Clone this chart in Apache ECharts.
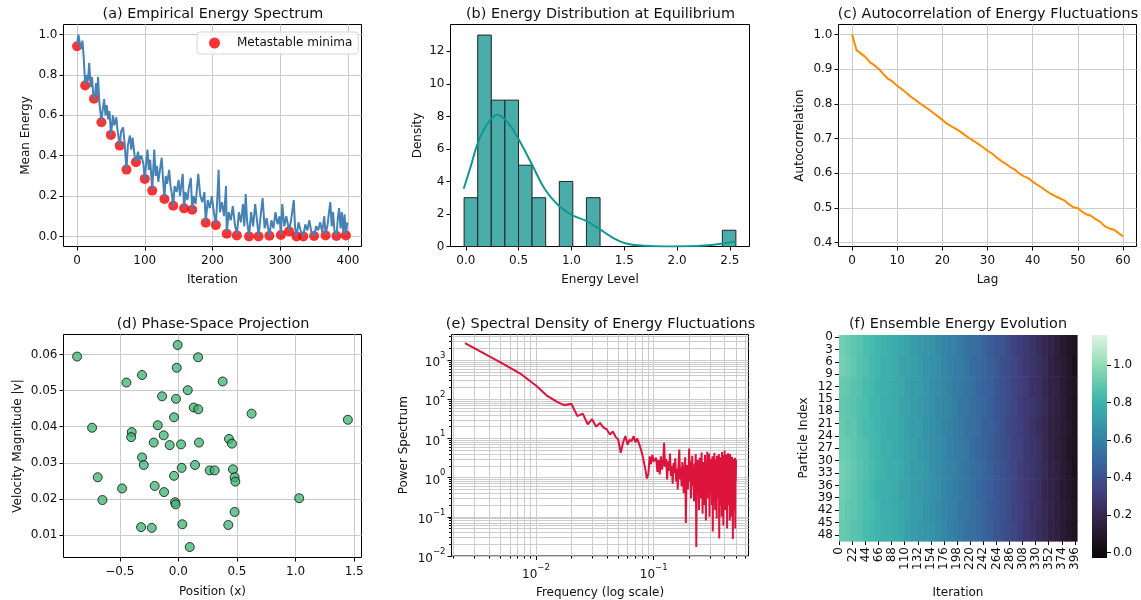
<!DOCTYPE html>
<html><head><meta charset="utf-8">
<script src="https://cdn.jsdelivr.net/npm/echarts@6/dist/echarts.min.js"></script>
<style>html,body{margin:0;padding:0;background:#fff}#c{width:1141px;height:600px}</style>
</head><body><div id="c"></div>
<script>
// ---------- (a) Empirical Energy Spectrum ----------
const ITER_X = [0,2,4,6,8,10,12,14,16,18,20,22,24,26,28,30,31,33,36,38,40,42,44,46,48,50,53,55,58,60,63,65,68,70,73,75,78,80,82,85,87,90,92,95,98,100,102,104,106,108,111,114,116,118,120,122,125,127,129,131,133,136,138,140,142,144,147,150,152,156,158,160,163,165,168,170,172,175,179,182,185,188,190,193,196,199,202,205,207,209,211,214,217,220,221,224,227,230,233,236,239,242,245,247,249,251,254,257,260,263,266,268,271,274,277,280,284,287,290,293,296,299,301,303,306,309,313,316,320,322,324,327,330,334,337,340,343,346,350,353,356,359,362,365,367,370,372,374,376,378,380,383,385,387,389,391,393,395,397,399];
const MEAN_E = [0.95,1.00,0.96,0.93,0.97,0.88,0.75,0.80,0.77,0.86,0.74,0.79,0.70,0.68,0.76,0.70,0.79,0.66,0.57,0.63,0.68,0.60,0.65,0.58,0.62,0.50,0.60,0.55,0.59,0.52,0.45,0.52,0.54,0.47,0.33,0.45,0.50,0.43,0.49,0.40,0.37,0.42,0.38,0.40,0.36,0.28,0.36,0.43,0.33,0.38,0.23,0.43,0.30,0.35,0.27,0.32,0.39,0.28,0.19,0.30,0.26,0.33,0.25,0.21,0.15,0.25,0.22,0.28,0.20,0.31,0.14,0.22,0.18,0.24,0.29,0.13,0.20,0.16,0.31,0.20,0.17,0.22,0.07,0.18,0.14,0.20,0.12,0.06,0.18,0.33,0.12,0.17,0.10,0.25,0.02,0.12,0.08,0.15,0.06,0.01,0.12,0.07,0.16,0.05,0.21,0.08,0.00,0.12,0.05,0.16,0.07,0.00,0.10,0.19,0.04,0.09,0.00,0.08,0.04,0.12,0.06,0.10,0.01,0.16,0.05,0.10,0.03,0.08,0.18,0.04,0.00,0.07,0.03,0.00,0.06,0.03,0.08,0.02,0.00,0.05,0.03,0.07,0.02,0.10,0.01,0.06,0.12,0.17,0.05,0.12,0.03,0.00,0.09,0.14,0.04,0.12,0.02,0.11,0.01,0.07];
const MINIMA_X = [0,12,25,36,50,63,73,87,100,111,129,142,158,170,190,205,221,236,254,268,284,301,313,324,334,350,367,383,397];
const MINIMA_E = [0.942,0.748,0.682,0.566,0.503,0.45,0.331,0.368,0.285,0.227,0.185,0.152,0.139,0.132,0.068,0.056,0.013,0.005,0.0,0.0,0.003,0.007,0.025,0.0,0.0,0.002,0.005,0.002,0.005];

// ---------- (b) Energy Distribution ----------
const HIST_EDGES = [-0.016,0.113,0.241,0.37,0.499,0.627,0.756,0.885,1.013,1.142,1.271,1.4,1.528,1.657,1.786,1.914,2.043,2.172,2.3,2.429,2.557];
const HIST_COUNTS = [3,13,9,9,5,3,0,4,0,3,0,0,0,0,0,0,0,0,0,1];
const KDE_X = [-0.02,0.05,0.11,0.2,0.3,0.4,0.5,0.63,0.75,0.88,1.0,1.13,1.26,1.39,1.51,1.7,1.9,2.1,2.3,2.43,2.557];
const KDE_Y = [3.55,5.0,6.3,7.5,8.1,7.6,6.6,5.0,3.5,2.5,1.95,1.6,1.1,0.55,0.2,0.04,0.0,0.01,0.08,0.18,0.3];

// ---------- (c) Autocorrelation ----------
const ACF = [1.0,0.955,0.945,0.935,0.92,0.911,0.9,0.885,0.872,0.864,0.852,0.843,0.832,0.821,0.812,0.802,0.793,0.784,0.774,0.764,0.754,0.743,0.735,0.728,0.72,0.71,0.701,0.693,0.684,0.675,0.665,0.657,0.646,0.636,0.628,0.618,0.611,0.6,0.592,0.586,0.576,0.567,0.559,0.549,0.541,0.534,0.528,0.522,0.511,0.502,0.499,0.489,0.481,0.477,0.467,0.46,0.447,0.441,0.437,0.428,0.418];

// ---------- (d) Phase-space ----------
const POS_X = [-0.864,-0.006,0.168,-0.014,-0.310,-0.443,0.378,0.080,-0.139,-0.020,0.131,0.170,0.625,1.446,-0.037,-0.736,-0.176,-0.398,-0.403,-0.125,-0.210,-0.074,0.023,0.176,0.432,0.457,-0.310,-0.295,0.142,0.028,0.267,0.310,0.466,0.480,0.486,-0.688,-0.037,-0.480,-0.202,-0.122,-0.648,-0.028,-0.023,1.031,0.480,-0.318,-0.227,0.034,0.426,0.097];
const VEL = [0.0594,0.0626,0.0592,0.0563,0.0543,0.0522,0.0525,0.0501,0.0484,0.0477,0.0453,0.0448,0.0436,0.0419,0.0426,0.0397,0.0404,0.0385,0.0371,0.0376,0.0356,0.0349,0.0351,0.0356,0.0366,0.0353,0.0315,0.0294,0.0294,0.0286,0.0279,0.0279,0.0282,0.0260,0.0248,0.0260,0.0264,0.0229,0.0236,0.0219,0.0197,0.0191,0.0185,0.0202,0.0164,0.0122,0.0120,0.0130,0.0128,0.0067];

// ---------- (e) Spectral density (power at frequency k/400, k=1..200) ----------
const POWER = [2700,880,437,225,122,87,70,77,37,43,23,31,20,25,19,17,12.6,15,11,9.3,4.3,8,11.5,7,9.3,8.5,11.5,8.0,10,9.0,5.5,3.9,2.5,1.6,0.95,1.2,3.5,2.2,3.8,2.6,
2.5,3.2,1.4,2.8,1.2,3.5,1.6,2.2,7.8,1.9,3.0,0.9,2.6,1.5,4.1,1.1,2.0,0.7,2.4,1.3,
3.1,0.8,1.7,0.5,2.2,5.2,0.9,1.8,0.6,2.5,1.0,0.4,1.6,3.3,0.07,1.2,2.1,0.5,1.4,5.5,
0.8,2.6,0.3,1.5,3.6,0.6,1.9,0.25,2.3,0.9,4.0,0.017,1.1,2.8,0.4,1.6,0.15,3.2,0.7,2.0,
0.3,4.4,1.0,0.12,2.5,0.6,1.8,0.2,3.8,0.9,0.08,2.2,0.5,4.6,1.2,0.3,2.7,4.1,0.1,1.5,
0.4,3.0,0.7,2.0,0.2,3.5,0.042,1.3,2.4,0.35,4.3,0.8,0.15,2.9,0.6,1.7,0.09,3.6,1.1,0.3,
2.3,0.5,4.0,0.028,1.4,2.6,0.2,3.3,0.7,1.9,0.1,4.5,0.9,0.35,2.8,0.06,1.6,3.7,0.4,4.9,
0.8,0.15,2.5,1.2,3.9,0.3,1.8,0.05,2.9,0.6,4.2,1.0,0.2,3.1,0.5,1.5,0.08,4.0,0.7,2.2,
0.4,2.9,0.1,1.7,3.4,0.3,2.0,0.027,1.3,3.0,0.6,0.15,2.6,1.1,0.35,3.2,0.05,1.9,0.8,2.9];
const N_SAMPLES = 400;

// ---------- (f) Ensemble energy: 10 particle groups (5 each) x 40 iteration bins (10 each) ----------
const HEAT_GRID = [
[0.93,0.91,0.89,0.88,0.85,0.84,0.81,0.80,0.78,0.76,0.75,0.74,0.71,0.69,0.68,0.67,0.64,0.61,0.60,0.59,0.56,0.53,0.52,0.51,0.47,0.44,0.42,0.41,0.37,0.33,0.31,0.29,0.26,0.23,0.20,0.18,0.15,0.11,0.08,0.06],
[0.94,0.92,0.90,0.87,0.86,0.83,0.82,0.79,0.79,0.77,0.74,0.73,0.72,0.70,0.67,0.66,0.65,0.62,0.59,0.58,0.57,0.54,0.51,0.50,0.48,0.45,0.43,0.39,0.37,0.35,0.32,0.28,0.26,0.24,0.21,0.17,0.14,0.12,0.09,0.05],
[0.91,0.90,0.88,0.87,0.84,0.83,0.80,0.79,0.78,0.76,0.75,0.72,0.71,0.70,0.68,0.65,0.64,0.62,0.60,0.57,0.56,0.54,0.53,0.49,0.47,0.46,0.42,0.40,0.38,0.34,0.32,0.30,0.25,0.24,0.20,0.17,0.16,0.12,0.09,0.07],
[0.90,0.89,0.88,0.86,0.85,0.82,0.81,0.78,0.78,0.77,0.74,0.73,0.71,0.69,0.68,0.66,0.63,0.62,0.61,0.58,0.55,0.54,0.52,0.50,0.48,0.45,0.41,0.40,0.37,0.35,0.31,0.29,0.27,0.24,0.21,0.17,0.15,0.13,0.09,0.06],
[0.91,0.89,0.89,0.86,0.84,0.83,0.81,0.79,0.77,0.77,0.75,0.72,0.70,0.70,0.67,0.66,0.64,0.61,0.60,0.58,0.56,0.53,0.52,0.50,0.46,0.45,0.43,0.40,0.36,0.34,0.32,0.29,0.26,0.23,0.20,0.16,0.15,0.12,0.10,0.06],
[0.92,0.91,0.89,0.87,0.86,0.83,0.82,0.79,0.79,0.76,0.75,0.73,0.72,0.69,0.68,0.65,0.64,0.63,0.59,0.58,0.57,0.55,0.51,0.49,0.47,0.44,0.42,0.39,0.38,0.34,0.33,0.28,0.26,0.25,0.20,0.17,0.14,0.12,0.08,0.06],
[0.94,0.92,0.90,0.88,0.86,0.84,0.82,0.80,0.78,0.78,0.76,0.73,0.71,0.70,0.69,0.66,0.64,0.62,0.60,0.59,0.56,0.54,0.52,0.51,0.48,0.45,0.42,0.40,0.37,0.35,0.32,0.29,0.27,0.24,0.21,0.17,0.15,0.12,0.09,0.05],
[0.93,0.91,0.89,0.87,0.85,0.83,0.80,0.79,0.78,0.77,0.74,0.73,0.71,0.69,0.68,0.66,0.65,0.62,0.60,0.58,0.56,0.54,0.52,0.49,0.47,0.45,0.42,0.40,0.38,0.34,0.31,0.29,0.26,0.24,0.19,0.17,0.15,0.11,0.09,0.06],
[0.92,0.90,0.89,0.87,0.85,0.84,0.81,0.78,0.78,0.76,0.75,0.73,0.70,0.70,0.67,0.66,0.64,0.61,0.60,0.58,0.55,0.54,0.52,0.50,0.47,0.44,0.43,0.40,0.37,0.34,0.32,0.29,0.25,0.24,0.20,0.18,0.15,0.12,0.10,0.07],
[0.91,0.90,0.88,0.87,0.84,0.83,0.81,0.79,0.79,0.77,0.75,0.72,0.71,0.69,0.68,0.67,0.64,0.62,0.59,0.58,0.56,0.53,0.52,0.50,0.47,0.45,0.42,0.39,0.37,0.35,0.32,0.28,0.26,0.23,0.21,0.17,0.15,0.12,0.09,0.06]];
const N_PARTICLES = 50, N_ITER = 400, ROWS_PER_GROUP = 5, COLS_PER_BIN = 10;
const COLOR_MIN = -0.03, COLOR_MAX = 1.16;
const MAKO = ['#0B0405','#2E1E3B','#413D7B','#37659E','#348FA7','#40B7AD','#8BDAB2','#DEF5E5'];

// ---------- tick labels ----------
const TICKS_A_X = [0,100,200,300,400], TICKS_A_Y = [0,0.2,0.4,0.6,0.8,1.0];
const TICKS_B_X = [0,0.5,1.0,1.5,2.0,2.5], TICKS_B_Y = [0,2,4,6,8,10,12];
const TICKS_C_X = [0,10,20,30,40,50,60], TICKS_C_Y = [0.4,0.5,0.6,0.7,0.8,0.9,1.0];
const TICKS_D_X = [-0.5,0,0.5,1.0,1.5], TICKS_D_Y = [0.01,0.02,0.03,0.04,0.05,0.06];
const TICKS_E_X = [0.01,0.1], TICKS_E_Y = [0.01,0.1,1,10,100,1000];
const TICKS_CB = [0,0.2,0.4,0.6,0.8,1.0];

// ================= build =================
const FONT = 'DejaVu Sans';
const GRIDC = '#cccccc';
const TXT = '#111';
const minus = s => String(s).replace('-', '\u2212');
const f1 = v => minus(v.toFixed(1)), f2 = v => minus(v.toFixed(2)), f0 = v => minus(String(Math.round(v)));
const supFmt = v => { const e = Math.round(Math.log10(v)); return '{b|10}{e|' + minus(e) + '}'; };
const SUP_RICH = { b: { fontSize: 12, fontFamily: FONT, color: TXT, lineHeight: 18, verticalAlign: 'bottom' }, e: { fontSize: 8.5, fontFamily: FONT, color: TXT, lineHeight: 18, verticalAlign: 'top' } };

function minorLog(lo, hi) { // decorative minor grid positions
  const out = [];
  for (let p = lo; p <= hi; p++) for (let m = 1; m <= 9; m++) out.push(+(m * Math.pow(10, p)).toPrecision(3));
  return out;
}

function ax(o) {
  return {
    type: o.type || 'value', gridIndex: o.g, position: o.pos, min: o.min, max: o.max,
    ...(o.type === 'log' ? { logBase: 10 } : {}),
    name: o.name || '', nameLocation: 'middle', nameGap: o.gap || 0,
    nameTextStyle: { fontSize: 12, color: TXT, fontFamily: FONT },
    axisLine: { show: false, onZero: false },
    axisTick: { show: o.tickShow !== false, customValues: o.ticks, length: o.tl || 4, lineStyle: { color: '#000', width: 1 } },
    axisLabel: { show: o.labels !== false, customValues: o.ticks, formatter: o.fmt, fontSize: 12, color: TXT, fontFamily: FONT, margin: o.m || 6, rich: o.rich },
    splitLine: { show: !!o.grid, lineStyle: { color: GRIDC, width: 1 } },
    minorTick: { show: false }, minorSplitLine: { show: false }
  };
}
function grid(l, t, w, h, border) {
  return { left: l, top: t, width: w, height: h, show: border, borderColor: '#000', borderWidth: 1, backgroundColor: 'rgba(0,0,0,0)', containLabel: false };
}

const heatData = [];
HEAT_GRID.forEach((row, g) => row.forEach((v, b) => {
  heatData.push([b * COLS_PER_BIN, b * COLS_PER_BIN + COLS_PER_BIN - 1, g * ROWS_PER_GROUP, g * ROWS_PER_GROUP + ROWS_PER_GROUP - 1, v]);
}));
const histData = HIST_COUNTS.map((c, i) => [HIST_EDGES[i], HIST_EDGES[i + 1], c]).filter(d => d[2] > 0);
const specData = POWER.map((p, i) => [(i + 1) / N_SAMPLES, p]);

const titles = [
  ['(a) Empirical Energy Spectrum', 213, 14], ['(b) Energy Distribution at Equilibrium', 600.5, 14], ['(c) Autocorrelation of Energy Fluctuations', 988, 14],
  ['(d) Phase-Space Projection', 213, 324], ['(e) Spectral Density of Energy Fluctuations', 600.5, 324], ['(f) Ensemble Energy Evolution', 958, 324]
];

const option = {
  animation: false,
  backgroundColor: '#fff',
  textStyle: { fontFamily: FONT },
  graphic: titles.map(t => ({ type: 'text', x: t[1], y: t[2], style: { text: t[0], fontSize: 14.4, fontFamily: FONT, fill: TXT, align: 'center', verticalAlign: 'middle' } })),
  legend: {
    data: ['Metastable minima'], left: 197, top: 32, padding: [5, 6, 5, 12], itemWidth: 11, itemHeight: 11, icon: 'circle',
    backgroundColor: 'rgba(255,255,255,0.8)', borderColor: '#d5d5d5', borderWidth: 1, borderRadius: 3,
    textStyle: { fontSize: 12, color: TXT, fontFamily: FONT, padding: [0, 0, 0, 12] }
  },
  grid: [
    grid(63.5, 24.5, 298, 222, true), grid(450.5, 24.5, 299, 222, true), grid(838.5, 24.5, 298, 222, true),
    grid(63.5, 334.5, 298, 223, true), grid(451.5, 334.5, 297, 223, true), grid(839, 335, 238, 223, false),
    grid(1092, 335, 15, 223, false)
  ],
  xAxis: [
    ax({ g: 0, pos: 'bottom', min: -20, max: 420, ticks: TICKS_A_X, fmt: f0, grid: true, name: 'Iteration', gap: 27, m: 8 }),
    ax({ g: 1, pos: 'bottom', min: -0.145, max: 2.686, ticks: TICKS_B_X, fmt: f1, name: 'Energy Level', gap: 27, m: 8 }),
    ax({ g: 2, pos: 'bottom', min: -3, max: 63, ticks: TICKS_C_X, fmt: f0, grid: true, name: 'Lag', gap: 27, m: 8 }),
    ax({ g: 3, pos: 'bottom', min: -0.98, max: 1.5625, ticks: TICKS_D_X, fmt: f1, grid: true, name: 'Position (x)', gap: 28, m: 8 }),
    ax({ g: 4, pos: 'bottom', type: 'log', min: 0.00192, max: 0.638, ticks: TICKS_E_X, fmt: supFmt, rich: SUP_RICH, name: 'Frequency (log scale)', gap: 31, m: 7 }),
    ax({ g: 4, pos: 'bottom', type: 'log', min: 0.00192, max: 0.638, ticks: minorLog(-3, -1).filter(v => v >= 0.002 && v <= 0.6), labels: false, tl: 2.5, grid: true }),
    { type: 'category', gridIndex: 5, position: 'bottom', data: Array.from({ length: N_ITER }, (_, i) => String(i)), boundaryGap: true,
      name: 'Iteration', nameLocation: 'middle', nameGap: 46, nameMoveOverlap: false, nameTextStyle: { fontSize: 12, color: TXT, fontFamily: FONT },
      axisLine: { show: false, onZero: false }, axisTick: { show: true, interval: 21, alignWithLabel: true, length: 4, lineStyle: { color: '#000' } },
      axisLabel: { interval: 21, rotate: 90, fontSize: 12, color: TXT, fontFamily: FONT, margin: 6 }, splitLine: { show: false } },
    { type: 'value', gridIndex: 6, min: 0, max: 1, show: false }
  ],
  yAxis: [
    ax({ g: 0, pos: 'left', min: -0.05, max: 1.05, ticks: TICKS_A_Y, fmt: f1, grid: true, name: 'Mean Energy', gap: 32 }),
    ax({ g: 1, pos: 'left', min: 0, max: 13.65, ticks: TICKS_B_Y, fmt: f0, name: 'Density', gap: 27 }),
    ax({ g: 2, pos: 'left', min: 0.3889, max: 1.029, ticks: TICKS_C_Y, fmt: f1, grid: true, name: 'Autocorrelation', gap: 33 }),
    ax({ g: 3, pos: 'left', min: 0.0038, max: 0.0655, ticks: TICKS_D_Y, fmt: f2, grid: true, name: 'Velocity Magnitude |v|', gap: 40 }),
    ax({ g: 4, pos: 'left', type: 'log', min: 0.00999, max: 4500, ticks: TICKS_E_Y, fmt: supFmt, rich: SUP_RICH, name: 'Power Spectrum', gap: 42 }),
    ax({ g: 4, pos: 'left', type: 'log', min: 0.00999, max: 4500, ticks: minorLog(-2, 3).filter(v => v >= 0.01 && v <= 4500), labels: false, tl: 2.5, grid: true }),
    { type: 'category', gridIndex: 5, position: 'left', inverse: true, data: Array.from({ length: N_PARTICLES }, (_, i) => String(i)), boundaryGap: true,
      name: 'Particle Index', nameLocation: 'middle', nameGap: 29, nameTextStyle: { fontSize: 12, color: TXT, fontFamily: FONT },
      axisLine: { show: false, onZero: false }, axisTick: { show: true, interval: 2, alignWithLabel: true, length: 4, lineStyle: { color: '#000' } },
      axisLabel: { interval: 2, fontSize: 12, color: TXT, fontFamily: FONT, margin: 6 }, splitLine: { show: false } },
    ax({ g: 6, pos: 'right', min: COLOR_MIN, max: COLOR_MAX, ticks: TICKS_CB, fmt: f1 })
  ],
  visualMap: [{ type: 'continuous', show: false, seriesIndex: 7, dimension: 4, min: COLOR_MIN, max: COLOR_MAX, inRange: { color: MAKO } }],
  series: [
    { name: 'Metastable minima', type: 'scatter', xAxisIndex: 0, yAxisIndex: 0, symbolSize: 10, itemStyle: { color: '#ff0000' },
      data: MINIMA_X.map((x, i) => [x, MINIMA_E[i]]), z: 1 },
    { type: 'line', xAxisIndex: 0, yAxisIndex: 0, showSymbol: false, lineStyle: { color: '#4682B4', width: 2 },
      data: ITER_X.map((x, i) => [x, MEAN_E[i]]), z: 5 },
    { type: 'custom', xAxisIndex: 1, yAxisIndex: 1, encode: { x: [0, 1], y: 2 }, data: histData,
      renderItem: (params, api) => {
        const p0 = api.coord([api.value(0), 0]); const p1 = api.coord([api.value(1), api.value(2)]);
        return { type: 'rect', shape: { x: p0[0], y: p1[1], width: p1[0] - p0[0], height: p0[1] - p1[1] }, style: { fill: '#4aadaa', stroke: '#222', lineWidth: 1 } };
      } },
    { type: 'line', xAxisIndex: 1, yAxisIndex: 1, showSymbol: false, smooth: 0.4, lineStyle: { color: '#109794', width: 2 },
      data: KDE_X.map((x, i) => [x, KDE_Y[i]]), z: 3 },
    { type: 'line', xAxisIndex: 2, yAxisIndex: 2, showSymbol: false, lineStyle: { color: '#FF8C00', width: 2 },
      data: ACF.map((v, i) => [i, v]) },
    { type: 'scatter', xAxisIndex: 3, yAxisIndex: 3, symbolSize: 9,
      itemStyle: { color: '#3CB371', opacity: 0.75, borderColor: '#000', borderWidth: 1 },
      data: POS_X.map((x, i) => [x, VEL[i]]) },
    { type: 'line', xAxisIndex: 4, yAxisIndex: 4, showSymbol: false, lineStyle: { color: '#DC143C', width: 2 }, data: specData, z: 3 },
    { type: 'custom', xAxisIndex: 6, yAxisIndex: 6, encode: { x: [0, 1], y: [2, 3] }, data: heatData,
      renderItem: (params, api) => {
        const a = api.coord([api.value(0), api.value(2)]); const b = api.coord([api.value(1), api.value(3)]); const s = api.size([1, 1]);
        const x = Math.min(a[0], b[0]) - s[0] / 2, y = Math.min(a[1], b[1]) - s[1] / 2;
        const w = Math.abs(b[0] - a[0]) + s[0], h = Math.abs(b[1] - a[1]) + s[1];
        return { type: 'rect', shape: { x: x, y: y, width: w + 0.6, height: h + 0.6 }, style: { fill: api.visual('color') } };
      } },
    { type: 'custom', xAxisIndex: 7, yAxisIndex: 7, encode: { x: [0, 1], y: [2, 3] }, data: [[0, 1, COLOR_MIN, COLOR_MAX]], silent: true,
      renderItem: (params, api) => {
        const a = api.coord([api.value(0), api.value(2)]); const b = api.coord([api.value(1), api.value(3)]);
        const stops = MAKO.map((c, i) => ({ offset: i / (MAKO.length - 1), color: c }));
        return { type: 'rect', shape: { x: a[0], y: b[1], width: b[0] - a[0], height: a[1] - b[1] },
          style: { fill: new echarts.graphic.LinearGradient(0, 1, 0, 0, stops) } };
      } }
  ]
};
const chart = echarts.init(document.getElementById('c'), null, { renderer: 'canvas' });
chart.setOption(option);
</script></body></html>
